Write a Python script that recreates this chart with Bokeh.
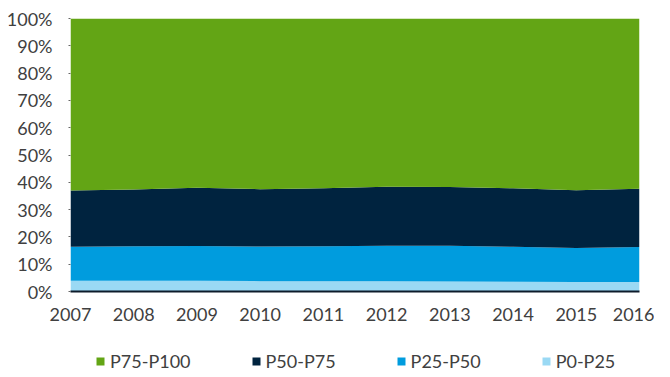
from bokeh.plotting import figure
from bokeh.layouts import column
from bokeh.models import ColumnDataSource, Legend, LegendItem, Range1d, FixedTicker, PrintfTickFormatter
from bokeh.embed import file_html
from bokeh.resources import INLINE

years = [2007, 2008, 2009, 2010, 2011, 2012, 2013, 2014, 2015, 2016]
p0_p25 = [3.9, 3.9, 3.9, 3.8, 3.8, 3.8, 3.7, 3.6, 3.5, 3.5]
p25_p50 = [12.5, 12.7, 12.8, 12.7, 12.8, 13.0, 13.1, 12.8, 12.4, 12.8]
p50_p75 = [20.6, 20.8, 21.3, 21.0, 21.2, 21.6, 21.5, 21.4, 21.2, 21.3]
p75_p100 = [63.0, 62.6, 62.0, 62.5, 62.2, 61.6, 61.7, 62.2, 62.9, 62.4]

series_names = ["P0-P25", "P25-P50", "P50-P75", "P75-P100"]
colors = ["#9ad9f4", "#009cde", "#00233f", "#63a515"]
y_ticks = [0, 10, 20, 30, 40, 50, 60, 70, 80, 90, 100]

source = ColumnDataSource(data={
    "year": years,
    "P0-P25": p0_p25,
    "P25-P50": p25_p50,
    "P50-P75": p50_p75,
    "P75-P100": p75_p100,
})

FONT = "Lato"
TXT = "#404040"
FS = "18px"

p = figure(width=654, height=327, output_backend="svg", toolbar_location=None,
           x_range=Range1d(years[0], years[-1]), y_range=Range1d(0, 100),
           min_border_left=70, min_border_right=15, min_border_top=18, min_border_bottom=36)

p.varea_stack(series_names, x="year", color=colors, source=source)

p.grid.visible = False
p.outline_line_color = None
p.background_fill_color = "white"

xa = p.xaxis[0]
xa.ticker = FixedTicker(ticks=years)
xa.major_tick_line_color = None
xa.minor_tick_line_color = None
xa.axis_line_color = "#0d1b2a"
xa.axis_line_width = 2
xa.major_label_text_font = FONT
xa.major_label_text_font_size = FS
xa.major_label_text_color = TXT
xa.major_label_standoff = 10

ya = p.yaxis[0]
ya.ticker = FixedTicker(ticks=y_ticks)
ya.formatter = PrintfTickFormatter(format="%d%%")
ya.axis_line_color = None
ya.major_tick_in = 0
ya.major_tick_out = 2
ya.major_tick_line_color = "#666666"
ya.minor_tick_line_color = None
ya.major_label_text_font = FONT
ya.major_label_text_font_size = FS
ya.major_label_text_color = TXT
ya.major_label_standoff = 16

# legend strip below the chart (same series, drawn out of view)
pl = figure(width=654, height=50, output_backend="svg", toolbar_location=None,
            x_range=Range1d(years[0], years[-1]), y_range=Range1d(1000, 1001),
            min_border_left=0, min_border_right=0, min_border_top=0, min_border_bottom=0)
pl.axis.visible = False
pl.grid.visible = False
pl.outline_line_color = None
leg_renderers = pl.varea_stack(series_names, x="year", color=colors, source=source)

order = [3, 2, 1, 0]
items = [LegendItem(label=series_names[i], renderers=[leg_renderers[i]]) for i in order]
legend = Legend(items=items, orientation="horizontal", location=(25, 5),
                glyph_width=10, glyph_height=10, label_standoff=5, label_width=20,
                spacing=60, padding=0, margin=0, border_line_alpha=0,
                background_fill_alpha=0, label_text_font=FONT,
                label_text_font_size=FS, label_text_color=TXT, label_height=20)
pl.add_layout(legend, "center")

layout = column(p, pl, spacing=0)
open("out.html", "w").write(file_html(layout, INLINE))
